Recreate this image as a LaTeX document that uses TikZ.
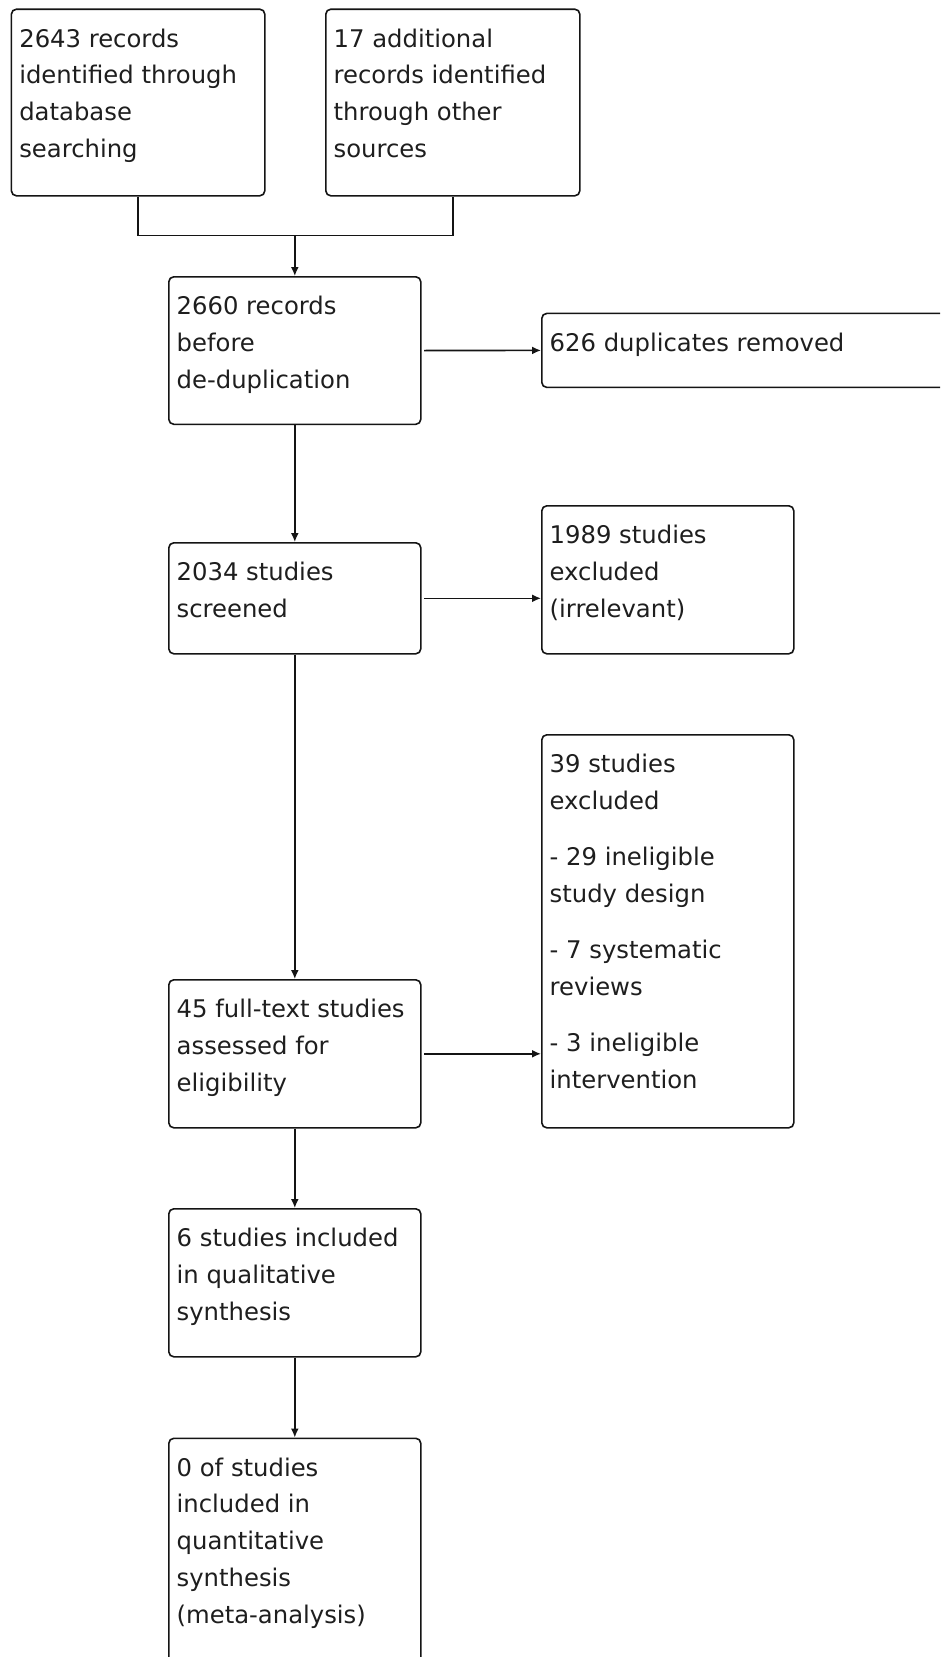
\documentclass[tikz,border=0pt]{standalone}
\usepackage{fontspec}
\setmainfont{DejaVu Sans}
\usetikzlibrary{arrows.meta}

\begin{document}
\begin{tikzpicture}[x=1pt,y=-1pt,
  flowbox/.style={draw=drawColor,line width=1.6pt,rounded corners=5pt,anchor=north west,inner sep=0pt},
  boxtext/.style={anchor=north west,align=left,inner xsep=8.5pt,inner ysep=20pt,text=textColor,
    font=\fontsize{24.3}{36.8}\selectfont},
  flowarrow/.style={draw=drawColor,line width=1.6pt,-{Latex[length=9pt,width=8pt]}},
  flowline/.style={draw=drawColor,line width=1.6pt,line join=miter}]
\definecolor{drawColor}{RGB}{20,20,20}
\definecolor{textColor}{RGB}{30,30,30}
\definecolor{fillColor}{RGB}{255,255,255}
\path[use as bounding box,fill=fillColor] (0,0) rectangle (940,1657);
\begin{scope}
\path[clip] (0,0) rectangle (940,1657);

% identification
\node[flowbox,minimum width=253.4pt,minimum height=186.6pt,
  label={[boxtext]north west:2643 records\\identified through\\database\\searching}] (db) at (10.6,8.4) {};
\node[flowbox,minimum width=254pt,minimum height=186.6pt,
  label={[boxtext]north west:17 additional\\records identified\\through other\\sources}] (other) at (325,8.4) {};

% screening
\node[flowbox,minimum width=252pt,minimum height=147.5pt,
  label={[boxtext]north west:2660 records\\before\\de-duplication}] (dedup) at (168,276) {};
\node[flowbox,minimum width=420pt,minimum height=74pt,
  label={[boxtext]north west:626 duplicates removed}] (dupl) at (541,312.6) {};
\node[flowbox,minimum width=252pt,minimum height=111pt,
  label={[boxtext]north west:2034 studies\\screened}] (screen) at (168,542) {};
\node[flowbox,minimum width=252pt,minimum height=148pt,
  label={[boxtext]north west:1989 studies\\excluded\\(irrelevant)}] (excla) at (541,505) {};

% eligibility
\node[flowbox,minimum width=252pt,minimum height=148pt,
  label={[boxtext]north west:45 full-text studies\\assessed for\\eligibility}] (elig) at (168,979) {};
\node[flowbox,minimum width=252pt,minimum height=393pt,
  label={[boxtext]north west:39 studies\\excluded\\[19.5pt]- 29 ineligible\\study design\\[19.5pt]- 7 systematic\\reviews\\[19.5pt]- 3 ineligible\\intervention}] (exclb) at (541,734) {};

% included
\node[flowbox,minimum width=252pt,minimum height=148pt,
  label={[boxtext]north west:6 studies included\\in qualitative\\synthesis}] (qual) at (168,1208) {};
\node[flowbox,minimum width=252pt,minimum height=260pt,
  label={[boxtext]north west:0 of studies\\included in\\quantitative\\synthesis\\(meta-analysis)}] (quant) at (168,1437.5) {};

% connectors
\coordinate (join) at (dedup.north |- 0,235.5);
\path[flowline] (db.south) |- (join) -| (other.south);
\path[flowarrow] (join) -- (dedup.north);
\path[flowarrow,shorten <=2.5pt] (dedup.east) -- (dupl.west);
\path[flowarrow] (dedup.south) -- (screen.north);
\path[flowarrow,shorten <=2.5pt] (screen.east) -- (screen.east -| excla.west);
\path[flowarrow] (screen.south) -- (elig.north);
\path[flowarrow,shorten <=2.5pt] (elig.east) -- (elig.east -| exclb.west);
\path[flowarrow] (elig.south) -- (qual.north);
\path[flowarrow] (qual.south) -- (quant.north);
\end{scope}
\end{tikzpicture}
\end{document}
